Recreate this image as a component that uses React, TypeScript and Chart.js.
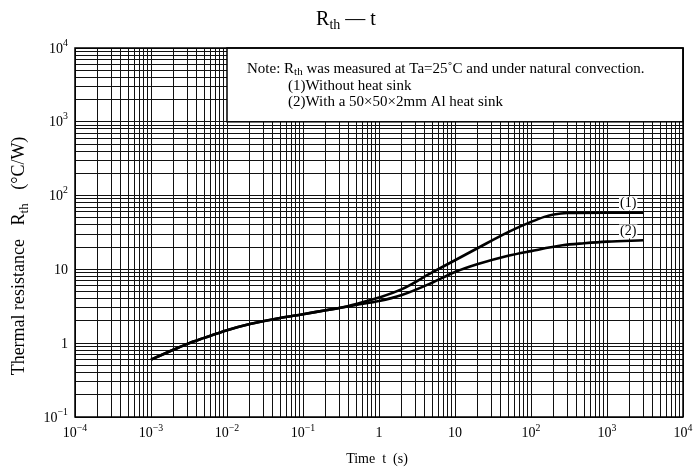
import React, { useEffect, useRef } from "react";
import { Chart, registerables } from "chart.js";

Chart.register(...registerables);

// Shared part of both curves (they coincide below ~0.3 s)
const sharedT = [0.001, 0.002, 0.003, 0.005, 0.01, 0.02, 0.05, 0.1, 0.2, 0.3];
const sharedR = [0.6, 0.82, 0.98, 1.18, 1.5, 1.82, 2.2, 2.47, 2.8, 3.0];

// (1) Without heat sink
const curve1T = [0.5, 1, 2, 5, 10, 20, 50, 100, 150, 200, 300, 1000, 3000];
const curve1R = [3.4, 4.15, 5.4, 9.1, 13.3, 19.5, 32, 44, 51.5, 55.5, 58, 58.5, 58.5];

// (2) With a 50x50x2mm Al heat sink
const curve2T = [0.5, 1, 2, 5, 10, 20, 50, 100, 260, 500, 1000, 3000];
const curve2R = [3.3, 3.72, 4.5, 6.6, 9.2, 11.8, 15.3, 17.7, 21.2, 22.6, 23.8, 24.8];

const xDecades = [-4, -3, -2, -1, 0, 1, 2, 3, 4];
const yDecades = [-1, 0, 1, 2, 3, 4];

const titleText = "R";
const titleSub = "th";
const titleRest = " — t";
const xTitle = "Time  t  (s)";
const yTitleA = "Thermal resistance   R";
const yTitleSub = "th";
const yTitleB = "   (°C/W)";
const noteLine1A = "Note: R";
const noteLine1Sub = "th";
const noteLine1B = " was measured at Ta=25˚C and under natural convection.";
const noteLine2 = "(1)Without heat sink";
const noteLine3 = "(2)With a 50×50×2mm Al heat sink";
const curveLabels = ["(1)", "(2)"];
const curveLabelAnchors = [
  { t: 1900, r: 78 },
  { t: 1900, r: 32.7 },
];
const noteBoxT = [0.01, 10000];
const noteBoxR = [1000, 10000];

const FONT = '"Liberation Serif", "Times New Roman", serif';

function gridValues(decades: number[]) {
  const v: number[] = [];
  for (let i = 0; i < decades.length; i++) {
    const e = decades[i];
    if (i === decades.length - 1) {
      v.push(Math.pow(10, e));
    } else {
      for (let m = 1; m <= 9; m++) v.push(m * Math.pow(10, e));
    }
  }
  return v;
}

type Part = { t: string; size: number; dy?: number };

function drawRich(ctx: CanvasRenderingContext2D, parts: Part[], x: number, y: number, align: string) {
  let w = 0;
  for (const p of parts) {
    ctx.font = `${p.size}px ${FONT}`;
    w += ctx.measureText(p.t).width;
  }
  let cx = align === "center" ? x - w / 2 : align === "right" ? x - w : x;
  ctx.textAlign = "left";
  for (const p of parts) {
    ctx.font = `${p.size}px ${FONT}`;
    ctx.fillText(p.t, cx, y + (p.dy || 0));
    cx += ctx.measureText(p.t).width;
  }
  return w;
}

function decadeLabel(e: number, size: number): Part[] {
  if (e === 0) return [{ t: "1", size }];
  if (e === 1) return [{ t: "10", size }];
  const s = e < 0 ? "\u2212" + Math.abs(e) : String(e);
  return [
    { t: "10", size },
    { t: s, size: size * 0.7, dy: -size * 0.42 },
  ];
}

const overlayPlugin = {
  id: "overlay",
  afterDatasetsDraw(chart: any) {
    const ctx: CanvasRenderingContext2D = chart.ctx;
    const xs = chart.scales.x;
    const ys = chart.scales.y;
    const ca = chart.chartArea;
    ctx.save();
    // note box
    const bx0 = xs.getPixelForValue(noteBoxT[0]);
    const bx1 = xs.getPixelForValue(noteBoxT[1]);
    const by0 = ys.getPixelForValue(noteBoxR[1]);
    const by1 = ys.getPixelForValue(noteBoxR[0]);
    ctx.fillStyle = "#fff";
    ctx.fillRect(bx0, by0, bx1 - bx0, by1 - by0);
    ctx.strokeStyle = "#000";
    ctx.lineWidth = 1.5;
    ctx.strokeRect(bx0, by0, bx1 - bx0, by1 - by0);

    ctx.fillStyle = "#000";
    ctx.textBaseline = "alphabetic";
    drawRich(
      ctx,
      [
        { t: noteLine1A, size: 15 },
        { t: noteLine1Sub, size: 11, dy: 2 },
        { t: noteLine1B, size: 15 },
      ],
      bx0 + 20,
      by0 + 25,
      "left"
    );
    drawRich(ctx, [{ t: noteLine2, size: 15 }], bx0 + 61, by0 + 42, "left");
    drawRich(ctx, [{ t: noteLine3, size: 15 }], bx0 + 61, by0 + 58, "left");

    // curve labels
    ctx.textBaseline = "middle";
    for (let i = 0; i < curveLabels.length; i++) {
      const px = xs.getPixelForValue(curveLabelAnchors[i].t);
      const py = ys.getPixelForValue(curveLabelAnchors[i].r);
      ctx.font = `14px ${FONT}`;
      const w = ctx.measureText(curveLabels[i]).width;
      ctx.fillStyle = "#fff";
      ctx.fillRect(px - w / 2 - 1, py - 7, w + 2, 14);
      ctx.fillStyle = "#000";
      ctx.textAlign = "center";
      ctx.fillText(curveLabels[i], px, py);
    }

    // plot border
    ctx.strokeStyle = "#000";
    ctx.lineWidth = 1.5;
    ctx.strokeRect(ca.left, ca.top, ca.right - ca.left, ca.bottom - ca.top);

    // tick labels
    ctx.fillStyle = "#000";
    ctx.textBaseline = "middle";
    for (const e of yDecades) {
      const py = ys.getPixelForValue(Math.pow(10, e));
      drawRich(ctx, decadeLabel(e, 14), ca.left - 7, py + 1, "right");
    }
    ctx.textBaseline = "alphabetic";
    for (const e of xDecades) {
      const px = xs.getPixelForValue(Math.pow(10, e));
      drawRich(ctx, decadeLabel(e, 14), px, ca.bottom + 20, "center");
    }

    // x title
    drawRich(ctx, [{ t: xTitle, size: 14 }], 377, ca.bottom + 46, "center");

    // y title
    ctx.save();
    ctx.translate(24, 256);
    ctx.rotate(-Math.PI / 2);
    drawRich(
      ctx,
      [
        { t: yTitleA, size: 18 },
        { t: yTitleSub, size: 13, dy: 4 },
        { t: yTitleB, size: 18 },
      ],
      0,
      0,
      "center"
    );
    ctx.restore();

    // main title
    drawRich(
      ctx,
      [
        { t: titleText, size: 20 },
        { t: titleSub, size: 14, dy: 4 },
        { t: titleRest, size: 20 },
      ],
      346,
      25,
      "center"
    );
    ctx.restore();
  },
};

export default function App() {
  const ref = useRef<HTMLCanvasElement | null>(null);
  useEffect(() => {
    if (!ref.current) return;
    const d1 = sharedT.map((t, i) => ({ x: t, y: sharedR[i] })).concat(curve1T.map((t, i) => ({ x: t, y: curve1R[i] })));
    const d2 = sharedT.map((t, i) => ({ x: t, y: sharedR[i] })).concat(curve2T.map((t, i) => ({ x: t, y: curve2R[i] })));
    const xGrid = gridValues(xDecades);
    const yGrid = gridValues(yDecades);
    const chart = new Chart(ref.current, {
      type: "scatter",
      data: {
        datasets: [
          {
            label: "(1)",
            data: d1,
            showLine: true,
            borderColor: "#000",
            borderWidth: 2.6,
            pointRadius: 0,
            cubicInterpolationMode: "monotone",
            fill: false,
          },
          {
            label: "(2)",
            data: d2,
            showLine: true,
            borderColor: "#000",
            borderWidth: 2.6,
            pointRadius: 0,
            cubicInterpolationMode: "monotone",
            fill: false,
          },
        ],
      },
      options: {
        animation: false,
        responsive: false,
        events: [],
        layout: { padding: { left: 75, top: 48, right: 10, bottom: 58 } },
        plugins: { legend: { display: false }, tooltip: { enabled: false }, title: { display: false } },
        scales: {
          x: {
            type: "logarithmic",
            min: 1e-4,
            max: 1e4,
            afterBuildTicks: (s: any) => {
              s.ticks = xGrid.map((v) => ({ value: v }));
            },
            afterFit: (s: any) => {
              s.height = 0;
            },
            ticks: { display: false },
            grid: { color: "#111", lineWidth: 1, drawTicks: false },
            border: { display: false },
          },
          y: {
            type: "logarithmic",
            min: 0.1,
            max: 1e4,
            afterBuildTicks: (s: any) => {
              s.ticks = yGrid.map((v) => ({ value: v }));
            },
            afterFit: (s: any) => {
              s.width = 0;
            },
            ticks: { display: false },
            grid: { color: "#111", lineWidth: 1, drawTicks: false },
            border: { display: false },
          },
        },
      },
      plugins: [overlayPlugin],
    } as any);
    return () => chart.destroy();
  }, []);
  return (
    <div style={{ position: "absolute", left: 0, top: 0, width: 693, height: 475, background: "#fff" }}>
      <canvas ref={ref} width={693} height={475} style={{ display: "block" }} />
    </div>
  );
}
